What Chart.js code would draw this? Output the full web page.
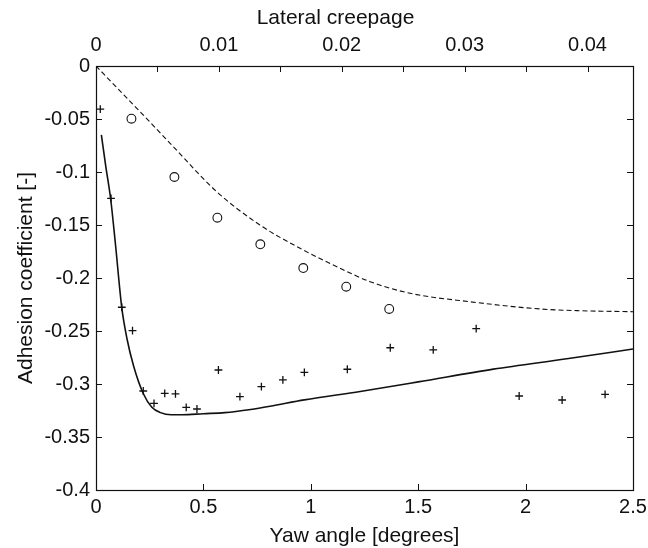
<!DOCTYPE html>
<html><head><meta charset="utf-8">
<script src="https://cdn.jsdelivr.net/npm/chart.js@4"></script>
<style>html,body{margin:0;padding:0;background:#fff}#wrap{width:648px;height:548px}</style>
</head><body><div id="wrap"><canvas id="c" width="648" height="548"></canvas></div>
<script>
// ---- data ----
const yawTicks = [0, 0.5, 1, 1.5, 2, 2.5];
const creepTicks = [0, 0.005, 0.01, 0.015, 0.02, 0.025, 0.03, 0.035, 0.04];
const creepLabels = ['0', '', '0.01', '', '0.02', '', '0.03', '', '0.04'];
const creepMax = 0.0437; // tan(2.5 deg)
const yTicks = [0, -0.05, -0.1, -0.15, -0.2, -0.25, -0.3, -0.35, -0.4];
const topTitle = 'Lateral creepage';

const dashX = [0, 0.1, 0.205, 0.345, 0.562, 0.763, 0.95, 1.136, 1.276, 1.462, 1.741, 2.067, 2.238, 2.5];
const dashY = [0, -0.021, -0.0431, -0.0729, -0.1186, -0.150, -0.172, -0.1908, -0.2035, -0.2144, -0.2224, -0.2292, -0.2308, -0.2318];

const solidX = [0.025, 0.045, 0.068, 0.09, 0.12, 0.145, 0.175, 0.22, 0.26, 0.30, 0.35, 0.40, 0.50, 0.60, 0.72, 0.81, 0.97, 1.23, 1.50, 1.85, 2.20, 2.50];
const solidY = [-0.065, -0.094, -0.125, -0.167, -0.228, -0.258, -0.283, -0.309, -0.322, -0.327, -0.329, -0.329, -0.328, -0.327, -0.324, -0.321, -0.315, -0.307, -0.298, -0.286, -0.276, -0.267];

const circleX = [0.165, 0.365, 0.565, 0.765, 0.965, 1.165, 1.365];
const circleY = [-0.0497, -0.1047, -0.1431, -0.1682, -0.1906, -0.2082, -0.2292];

const plusX = [0.02, 0.07, 0.12, 0.17, 0.22, 0.27, 0.32, 0.37, 0.42, 0.47, 0.57, 0.67, 0.77, 0.87, 0.97, 1.17, 1.37, 1.57, 1.77, 1.97, 2.17, 2.37];
const plusY = [-0.0406, -0.1248, -0.2276, -0.2497, -0.3066, -0.3182, -0.3088, -0.3094, -0.3220, -0.3236, -0.2868, -0.3120, -0.3025, -0.2962, -0.2890, -0.2861, -0.2658, -0.2679, -0.2478, -0.3113, -0.3151, -0.3097];

const pts = (xs, ys) => xs.map((x, i) => ({x: x, y: ys[i]}));
const INK = '#111';
const FONT = 'Liberation Sans, Arial, Helvetica, sans-serif';

const boxAndTicks = {
  id: 'boxAndTicks',
  afterDatasetsDraw(chart) {
    const {ctx, chartArea: a, scales} = chart;
    const L = 6;
    ctx.save();
    ctx.strokeStyle = INK;
    ctx.lineWidth = 1;
    ctx.beginPath();
    scales.y.ticks.forEach(t => {
      const p = Math.round(scales.y.getPixelForValue(t.value)) + 0.5;
      ctx.moveTo(a.left, p); ctx.lineTo(a.left + L, p);
      ctx.moveTo(a.right, p); ctx.lineTo(a.right - L, p);
    });
    scales.x.ticks.forEach(t => {
      const p = Math.round(scales.x.getPixelForValue(t.value)) + 0.5;
      ctx.moveTo(p, a.bottom); ctx.lineTo(p, a.bottom - L);
    });
    scales.x2.ticks.forEach(t => {
      const p = Math.round(scales.x2.getPixelForValue(t.value)) + 0.5;
      ctx.moveTo(p, a.top); ctx.lineTo(p, a.top + L);
    });
    ctx.stroke();
    ctx.lineWidth = 1.2;
    ctx.strokeRect(Math.round(a.left) + 0.5, Math.round(a.top) + 0.5, Math.round(a.right - a.left), Math.round(a.bottom - a.top));
    // top axis title (sits left of centre in the reference)
    ctx.fillStyle = INK;
    ctx.font = '21px ' + FONT;
    ctx.textAlign = 'center';
    ctx.textBaseline = 'middle';
    ctx.fillText(topTitle, (a.left + a.right) / 2 - 29, 18);
    ctx.restore();
  }
};

const noSidePad = s => { s.paddingLeft = 0; s.paddingRight = 0; s.paddingTop = 0; s.paddingBottom = 0; };

new Chart(document.getElementById('c'), {
  type: 'scatter',
  data: {
    datasets: [
      {data: pts(dashX, dashY), showLine: true, borderColor: INK, borderWidth: 1.1, borderDash: [5, 3], pointRadius: 0, cubicInterpolationMode: 'monotone', fill: false},
      {data: pts(solidX, solidY), showLine: true, borderColor: INK, borderWidth: 1.6, pointRadius: 0, cubicInterpolationMode: 'monotone', fill: false},
      {data: pts(circleX, circleY), showLine: false, pointStyle: 'circle', pointRadius: 4.4, borderColor: INK, borderWidth: 1.1, backgroundColor: 'rgba(0,0,0,0)'},
      {data: pts(plusX, plusY), showLine: false, pointStyle: 'cross', pointRadius: 3.9, borderColor: INK, borderWidth: 1.3, backgroundColor: INK}
    ]
  },
  options: {
    responsive: false,
    devicePixelRatio: 1,
    animation: false,
    layout: {padding: {left: 0, right: 15, top: 0, bottom: 0}},
    plugins: {legend: {display: false}, tooltip: {enabled: false}},
    scales: {
      x: {
        type: 'linear', position: 'bottom', min: 0, max: 2.5,
        afterBuildTicks: s => { s.ticks = yawTicks.map(v => ({value: v})); },
        ticks: {autoSkip: false, maxRotation: 0, padding: 5, color: INK, font: {family: FONT, size: 20}, callback: v => String(v)},
        grid: {display: false, drawTicks: false}, border: {display: false},
        title: {display: true, text: 'Yaw angle [degrees]', color: INK, font: {family: FONT, size: 21}, padding: {top: 0, bottom: -1}},
        afterFit: s => { s.height = 58; noSidePad(s); }
      },
      x2: {
        type: 'linear', position: 'top', min: 0, max: creepMax,
        afterBuildTicks: s => { s.ticks = creepTicks.map(v => ({value: v})); },
        ticks: {autoSkip: false, maxRotation: 0, padding: 9, color: INK, font: {family: FONT, size: 20}, callback: (v, i) => creepLabels[i]},
        grid: {display: false, drawTicks: false}, border: {display: false},
        afterFit: s => { s.height = 66; noSidePad(s); }
      },
      y: {
        type: 'linear', position: 'left', min: -0.4, max: 0,
        afterBuildTicks: s => { s.ticks = yTicks.map(v => ({value: v})); },
        ticks: {autoSkip: false, padding: 6, color: INK, font: {family: FONT, size: 20}, callback: v => String(v)},
        grid: {display: false, drawTicks: false}, border: {display: false},
        title: {display: true, text: 'Adhesion coefficient [-]', color: INK, font: {family: FONT, size: 21}, padding: {top: 14, bottom: 0}},
        afterFit: s => { s.width = 96; noSidePad(s); }
      }
    }
  },
  plugins: [boxAndTicks]
});
</script>
</body></html>
